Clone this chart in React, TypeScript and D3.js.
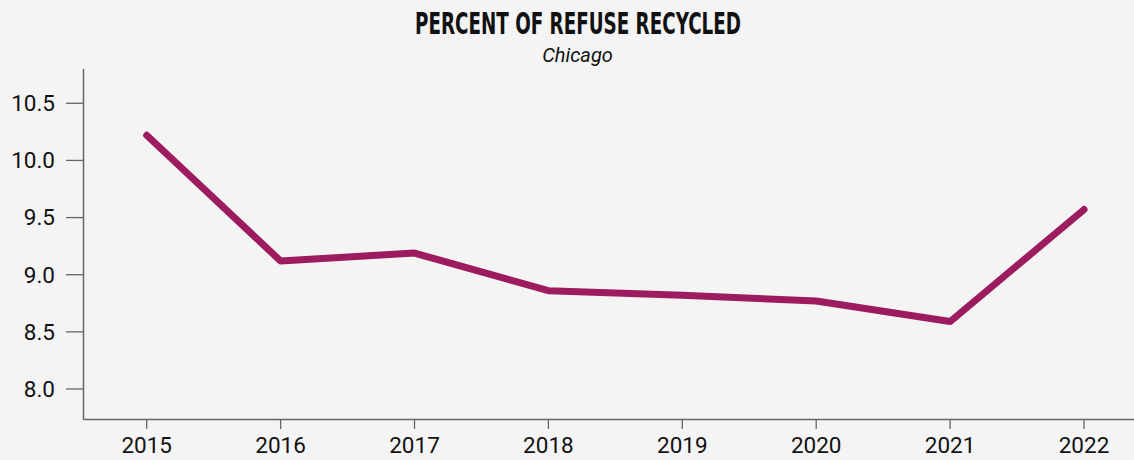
import React from "react";
import * as d3 from "d3";

const years = [2015, 2016, 2017, 2018, 2019, 2020, 2021, 2022];
const values = [10.22, 9.12, 9.19, 8.86, 8.82, 8.77, 8.59, 9.57];
const yTicks = [8.0, 8.5, 9.0, 9.5, 10.0, 10.5];
const title = "PERCENT OF REFUSE RECYCLED";
const subtitle = "Chicago";

const W = 1134;
const H = 460;

export default function App() {
  const x = d3.scaleLinear().domain([2015, 2022]).range([146.7, 1084]);
  const y = d3.scaleLinear().domain([8, 10.5]).range([389, 103.3]);
  const axisLeft = 83.5;
  const axisBottom = 419.5;
  const line = d3
    .line<number>()
    .x((_, i) => x(years[i]))
    .y((d) => y(d));
  const fmt = d3.format(".1f");
  return (
    <svg
      width={W}
      height={H}
      style={{ position: "absolute", left: 0, top: 0, background: "#f4f4f4" }}
    >
      <rect x={0} y={0} width={W} height={H} fill="#f4f4f4" />
      <text
        x={578}
        y={34}
        textAnchor="middle"
        fontFamily="'DejaVu Sans Condensed', 'DejaVu Sans'"
        fontWeight="bold"
        fontSize={30}
        textLength={326}
        lengthAdjust="spacingAndGlyphs"
        fill="#111"
      >
        {title}
      </text>
      <text
        x={577.5}
        y={62}
        textAnchor="middle"
        fontFamily="Roboto"
        fontStyle="italic"
        fontSize={20}
        fill="#111"
      >
        {subtitle}
      </text>
      {/* y axis */}
      <line x1={axisLeft} x2={axisLeft} y1={69} y2={axisBottom} stroke="#666" strokeWidth={1.5} />
      {yTicks.map((t) => (
        <g key={t} transform={`translate(0,${y(t)})`}>
          <line x1={66} x2={axisLeft} stroke="#666" strokeWidth={1.3} />
          <text
            x={55}
            dy="0.35em"
            textAnchor="end"
            fontFamily="Roboto"
            fontSize={22.5}
            fill="#111"
          >
            {fmt(t)}
          </text>
        </g>
      ))}
      {/* x axis */}
      <line x1={axisLeft} x2={W} y1={axisBottom} y2={axisBottom} stroke="#666" strokeWidth={1.5} />
      {years.map((yr) => (
        <g key={yr} transform={`translate(${x(yr)},0)`}>
          <line y1={axisBottom} y2={429} stroke="#666" strokeWidth={1.3} />
          <text
            y={453}
            textAnchor="middle"
            fontFamily="Roboto"
            fontSize={22.5}
            fill="#111"
          >
            {yr}
          </text>
        </g>
      ))}
      <path
        d={line(values) || ""}
        fill="none"
        stroke="#9c1c5f"
        strokeWidth={7}
        strokeLinecap="round"
        strokeLinejoin="round"
      />
    </svg>
  );
}
